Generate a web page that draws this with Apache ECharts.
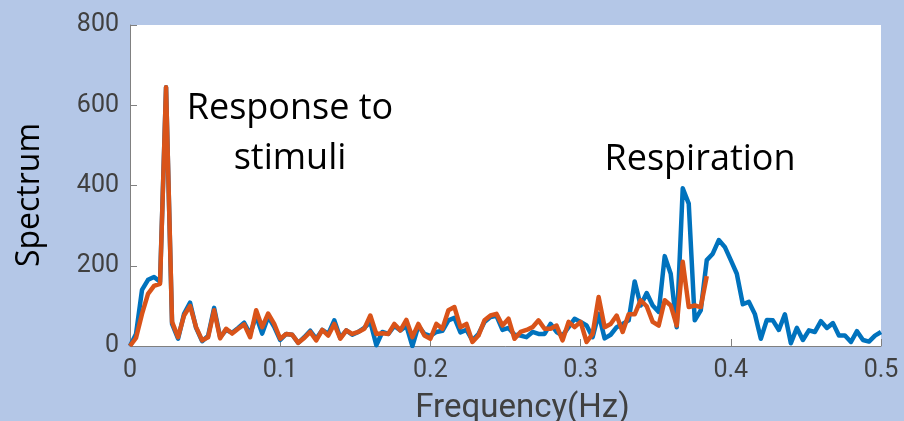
<!DOCTYPE html>
<html>
<head>
<meta charset="utf-8">
<script src="https://cdn.jsdelivr.net/npm/echarts@6/dist/echarts.min.js"></script>
<style>
html,body{margin:0;padding:0;background:#b4c7e7;}
#chart{width:904px;height:421px;}
</style>
</head>
<body>
<div id="chart"></div>
<script>
// Frequency resolution of the spectrum (Hz per sample)
const freqStep = 0.004;

// Blue series (full spectrum, 0 .. 0.5 Hz)
const blueSpectrum = [
  0, 30, 140, 165, 172, 160, 645, 55, 18, 80,
  108, 45, 12, 25, 95, 22, 40, 33, 45, 58,
  30, 75, 31, 73, 48, 15, 30, 28, 8, 22,
  38, 18, 40, 30, 64, 20, 39, 28, 35, 45,
  60, 2, 35, 30, 50, 39, 50, 0, 50, 30,
  25, 35, 38, 64, 70, 34, 40, 14, 30, 60,
  72, 75, 40, 45, 28, 26, 22, 35, 30, 30,
  55, 35, 26, 47, 68, 60, 51, 22, 80, 19,
  28, 47, 55, 64, 161, 101, 132, 101, 85, 224,
  180, 47, 393, 355, 64, 89, 214, 230, 264, 247,
  214, 180, 104, 110, 80, 18, 65, 64, 40, 79,
  7, 45, 15, 39, 35, 62, 45, 57, 26, 26,
  10, 37, 15, 11, 26, 35
];

// Orange series (stops near 0.385 Hz)
const orangeSpectrum = [
  0, 20, 80, 130, 150, 155, 645, 60, 22, 76,
  100, 47, 14, 22, 89, 19, 43, 31, 43, 54,
  22, 89, 47, 81, 55, 18, 30, 28, 8, 20,
  35, 14, 40, 26, 55, 18, 39, 30, 35, 43,
  76, 30, 32, 30, 55, 39, 65, 22, 55, 26,
  18, 55, 43, 89, 97, 47, 55, 10, 26, 64,
  76, 80, 51, 68, 18, 35, 40, 47, 64, 43,
  43, 51, 14, 60, 47, 60, 10, 30, 122, 47,
  55, 76, 35, 79, 79, 114, 99, 60, 51, 114,
  101, 51, 210, 97, 101, 97, 174
];

const xTicks = {min: 0, max: 0.5, interval: 0.1};
const yTicks = {min: 0, max: 800, interval: 200};

const annotations = [
  {text: 'Response to\nstimuli', x: 290, y: 84},
  {text: 'Respiration', x: 700, y: 135}
];

function toPairs(values) {
  return values.map((v, i) => [Number((i * freqStep).toFixed(4)), v]);
}

const chart = echarts.init(document.getElementById('chart'), null, {renderer: 'canvas'});
const tickLabelStyle = {fontFamily: 'Roboto', fontSize: 25, color: '#404040'};

chart.setOption({
  backgroundColor: '#b4c7e7',
  animation: false,
  grid: {left: 130, top: 25, right: 23, bottom: 75, show: true, backgroundColor: '#ffffff', borderWidth: 0,
         containLabel: false, outerBoundsMode: 'none'},
  xAxis: {
    type: 'value',
    min: xTicks.min, max: xTicks.max, interval: xTicks.interval,
    name: 'Frequency(Hz)',
    nameLocation: 'middle',
    nameGap: 46,
    nameTextStyle: {fontFamily: 'Roboto', fontSize: 33, color: '#404040', padding: [0, 0, 0, 34]},
    axisLine: {show: true, lineStyle: {color: '#808080', width: 1}},
    axisTick: {show: true, inside: true, length: 7, lineStyle: {color: '#808080'}},
    axisLabel: Object.assign({margin: 12}, tickLabelStyle),
    splitLine: {show: false}
  },
  yAxis: {
    type: 'value',
    min: yTicks.min, max: yTicks.max, interval: yTicks.interval,
    name: 'Spectrum',
    nameLocation: 'middle',
    nameGap: 84,
    nameRotate: 90,
    nameTextStyle: {fontFamily: 'Open Sans', fontSize: 32, color: '#000000', padding: [0, 19, 0, 0]},
    axisLine: {show: true, lineStyle: {color: '#808080', width: 1}},
    axisTick: {show: true, inside: true, length: 7, lineStyle: {color: '#808080'}},
    axisLabel: Object.assign({margin: 11}, tickLabelStyle),
    splitLine: {show: false}
  },
  series: [
    {
      type: 'line',
      data: toPairs(blueSpectrum),
      showSymbol: false,
      lineStyle: {color: '#0072BD', width: 4.5, join: 'round'},
      itemStyle: {color: '#0072BD'},
      z: 2
    },
    {
      type: 'line',
      data: toPairs(orangeSpectrum),
      showSymbol: false,
      lineStyle: {color: '#D95319', width: 4.5, join: 'round'},
      itemStyle: {color: '#D95319'},
      z: 3
    }
  ],
  graphic: annotations.map(a => ({
    type: 'text',
    x: a.x,
    y: a.y,
    z: 10,
    style: {
      text: a.text,
      fontFamily: 'Open Sans',
      fontSize: 36,
      lineHeight: 50,
      fill: '#000000',
      align: 'center',
      verticalAlign: 'top'
    }
  }))
});
</script>
</body>
</html>
